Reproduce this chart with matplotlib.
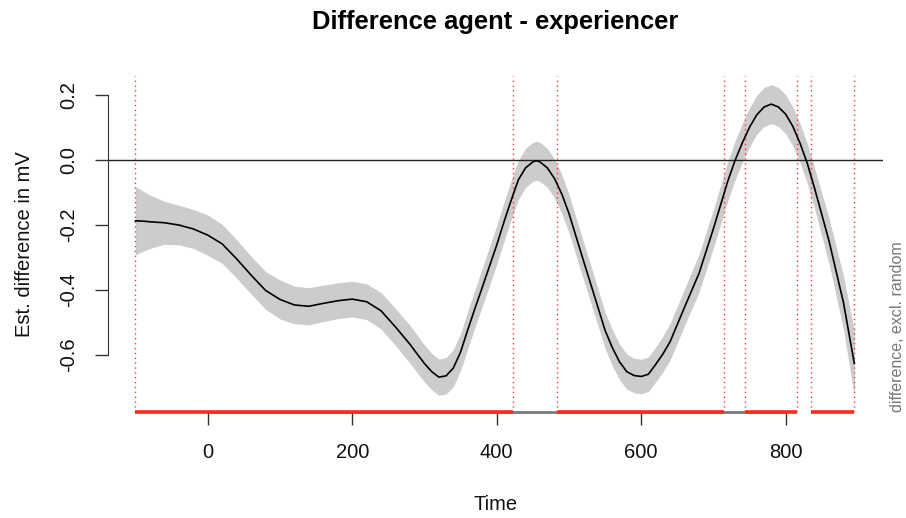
import matplotlib
matplotlib.use("Agg")
import matplotlib.pyplot as plt
import matplotlib.transforms as mtransforms
import numpy as np

plt.rcParams['font.family'] = ['Liberation Sans', 'DejaVu Sans']

# Estimated difference curve (agent - experiencer) over time
time = [-100, -90, -80, -60, -40, -20, 0, 20, 40, 60, 80, 100, 120, 140, 160,
        180, 200, 220, 240, 260, 280, 290, 300, 310, 320, 330, 340, 350, 360,
        370, 380, 400, 410, 420, 430, 440, 450, 455, 460, 470, 480, 490, 500,
        520, 540, 550, 560, 570, 580, 590, 600, 610, 620, 630, 640, 660, 680,
        700, 720, 730, 740, 750, 760, 770, 780, 790, 800, 810, 820, 830, 840,
        860, 880, 895]
est = [-0.188, -0.189, -0.191, -0.194, -0.201, -0.213, -0.232, -0.259, -0.305,
       -0.355, -0.402, -0.430, -0.447, -0.451, -0.442, -0.434, -0.429, -0.437,
       -0.465, -0.515, -0.568, -0.598, -0.627, -0.652, -0.669, -0.665, -0.641,
       -0.592, -0.523, -0.457, -0.393, -0.263, -0.192, -0.125, -0.062, -0.025,
       -0.007, -0.003, -0.007, -0.025, -0.058, -0.105, -0.165, -0.310, -0.453,
       -0.525, -0.578, -0.622, -0.652, -0.664, -0.667, -0.660, -0.630, -0.598,
       -0.560, -0.454, -0.350, -0.212, -0.065, -0.002, 0.052, 0.100, 0.138,
       0.162, 0.171, 0.162, 0.140, 0.102, 0.050, -0.012, -0.088, -0.250,
       -0.440, -0.627]
ci = [0.105, 0.093, 0.082, 0.066, 0.061, 0.060, 0.062, 0.060, 0.059, 0.058,
      0.058, 0.060, 0.058, 0.057, 0.056, 0.055, 0.055, 0.055, 0.056, 0.057,
      0.058, 0.058, 0.057, 0.056, 0.056, 0.056, 0.057, 0.057, 0.058, 0.058,
      0.059, 0.060, 0.060, 0.060, 0.060, 0.060, 0.060, 0.060, 0.060, 0.060,
      0.060, 0.060, 0.059, 0.058, 0.057, 0.056, 0.056, 0.055, 0.054, 0.053,
      0.053, 0.053, 0.054, 0.055, 0.056, 0.057, 0.058, 0.059, 0.060, 0.060,
      0.060, 0.060, 0.060, 0.060, 0.060, 0.060, 0.060, 0.060, 0.060, 0.061,
      0.063, 0.070, 0.083, 0.100]

# Windows where the confidence band excludes zero
sig_start = [-100, 484, 744, 835]
sig_end = [423, 714.6, 815, 895]

xticks = [0, 200, 400, 600, 800]
yticks = [-0.6, -0.4, -0.2, 0.0, 0.2]
ytick_labels = ["-0.6", "-0.4", "-0.2", "0.0", "0.2"]

W, H = 906, 518
fig = plt.figure(figsize=(W / 100, H / 100), dpi=100)
ax = fig.add_axes([108 / W, 106 / H, 775 / W, 336 / H])

t = np.array(time)
e = np.array(est)
c = np.array(ci)

ax.fill_between(t, e - c, e + c, color='#cccccc', linewidth=0, zorder=1)
ax.plot(t, e, color='black', linewidth=1.2, zorder=3,
        solid_joinstyle='round')
ax.axhline(0, color='#222222', linewidth=1.0, zorder=2)

ax.set_xlim(-138.0, 934.7)
ax.set_ylim(-0.7763, 0.2575)

# Boundaries of significant windows
bounds = sorted(set(sig_start + sig_end))
for b in bounds:
    ax.axvline(b, color='#ff3333', linestyle=(0, (1, 2.5)), linewidth=1.0,
               zorder=2)

for sp in ['top', 'right']:
    ax.spines[sp].set_visible(False)
ax.spines['left'].set_bounds(-0.6, 0.2)
ax.spines['bottom'].set_bounds(0, 800)
ax.spines['left'].set_color('#333333')
ax.spines['bottom'].set_color('#7a7a7a')
ax.spines['bottom'].set_linewidth(2.0)

ax.set_xticks(xticks)
ax.set_xticklabels([str(v) for v in xticks])
ax.set_yticks(yticks)
ax.set_yticklabels(ytick_labels, rotation=90, va='center')
ax.tick_params(axis='both', direction='out', length=9.4, width=1.0,
               color='#333333', labelsize=14.5, labelcolor='#111111')
ax.tick_params(axis='x', pad=13)
ax.tick_params(axis='y', pad=12)

# Significance bar along the bottom of the plot region
trans = mtransforms.blended_transform_factory(ax.transData, ax.transAxes)
for s, en in zip(sig_start, sig_end):
    ax.plot([s, en], [0, 0], color='#ff2a1a', linewidth=2.6,
            solid_capstyle='butt', transform=trans, clip_on=False, zorder=5)

fig.text(495.5 / W, 1 - 22 / H, "Difference agent - experiencer",
         ha='center', va='center', fontsize=18.4, fontweight='bold')
fig.text(495.5 / W, 1 - 505 / H, "Time", ha='center', va='center',
         fontsize=14.5, color='#111111')
fig.text(25 / W, 1 - 244 / H, "Est. difference in mV", ha='center',
         va='center', rotation=90, fontsize=14.5, color='#111111')
fig.text(897 / W, 106 / H, "difference, excl. random", ha='center',
         va='bottom', rotation=90, fontsize=11.5, color='#777777')

fig.savefig("out.png", dpi=100)
